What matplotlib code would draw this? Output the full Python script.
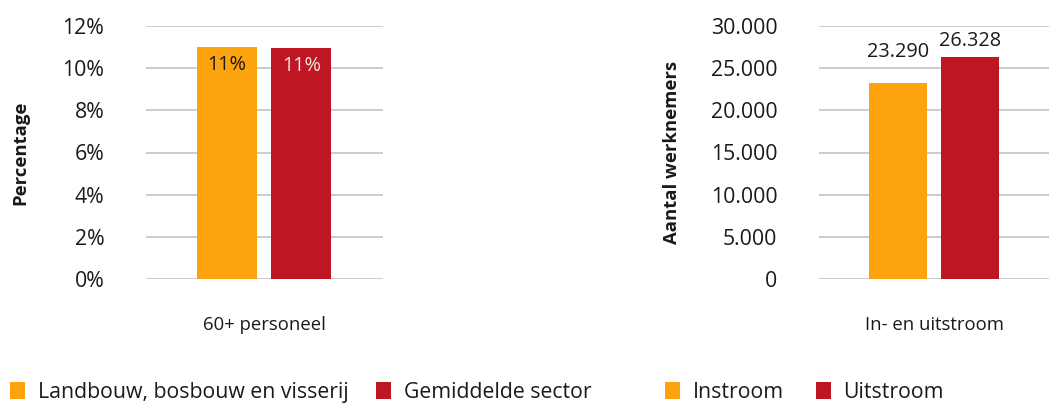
import matplotlib
matplotlib.use("Agg")
import matplotlib.pyplot as plt
from matplotlib.patches import Patch
from matplotlib.transforms import offset_copy

plt.rcParams['font.family'] = ['Open Sans', 'DejaVu Sans']

# Data
left_category = "60+ personeel"
left_series = ["Landbouw, bosbouw en visserij", "Gemiddelde sector"]
left_values = [11.0, 10.95]
left_labels = ["11%", "11%"]
left_ticks = [0, 2, 4, 6, 8, 10, 12]
left_ticklabels = ["0%", "2%", "4%", "6%", "8%", "10%", "12%"]

right_category = "In- en uitstroom"
right_series = ["Instroom", "Uitstroom"]
right_values = [23290, 26328]
right_labels = ["23.290", "26.328"]
right_ticks = [0, 5000, 10000, 15000, 20000, 25000, 30000]
right_ticklabels = ["0", "5.000", "10.000", "15.000", "20.000", "25.000", "30.000"]

ORANGE = "#FDA30F"
RED = "#BE1622"
colors = [ORANGE, RED]
GRID = "#BFBFBF"
TXT = "#1a1a1a"

W, H = 1050, 403
fig = plt.figure(figsize=(W / 100, H / 100), dpi=100)

def axes_px(x0, x1, y0, y1):
    return fig.add_axes([x0 / W, 1 - y1 / H, (x1 - x0) / W, (y1 - y0) / H])

ax1 = axes_px(146, 383, 26, 279)
ax2 = axes_px(819, 1049, 26, 279)

offsets = [-0.158, 0.156]
bw = 0.253

def style(ax, ticks, ticklabels, category, ylabel, lblx):
    ax.set_xlim(-0.5, 0.5)
    ax.set_ylim(ticks[0], ticks[-1])
    ax.set_yticks(ticks)
    ax.set_yticklabels(ticklabels, fontsize=15.3, color=TXT)
    ax.tick_params(axis='y', length=0, pad=30)
    ax.set_xticks([0])
    ax.set_xticklabels([category], fontsize=13.3, color=TXT)
    ax.tick_params(axis='x', length=0, pad=27)
    for s in ax.spines.values():
        s.set_visible(False)
    ax.yaxis.grid(True, color=GRID, linewidth=1.1)
    ax.set_axisbelow(True)
    ax.set_ylabel(ylabel, fontsize=13.3, fontweight='bold', color=TXT)
    ax.yaxis.set_label_coords(lblx, 0.5)

style(ax1, left_ticks, left_ticklabels, left_category, "Percentage", -0.49)
style(ax2, right_ticks, right_ticklabels, right_category, "Aantal werknemers", -0.60)

# Left bars with labels inside
for i, (v, lab) in enumerate(zip(left_values, left_labels)):
    ax1.bar(offsets[i], v, width=bw, color=colors[i], zorder=2)
    tr = offset_copy(ax1.transData, fig=fig, x=0, y=-18, units='dots')
    ax1.text(offsets[i], v, lab, ha='center', va='center', fontsize=14.3,
             color=(TXT if i == 0 else "#f7e4e4"), zorder=3, transform=tr)

# Right bars with labels above
label_lift = [31, 16]
for i, (v, lab) in enumerate(zip(right_values, right_labels)):
    ax2.bar(offsets[i], v, width=bw, color=colors[i], zorder=2)
    tr = offset_copy(ax2.transData, fig=fig, x=0, y=label_lift[i], units='dots')
    ax2.text(offsets[i], v, lab, ha='center', va='center', fontsize=14.3,
             color=TXT, zorder=3, transform=tr)

def legend(series, x, colsp):
    handles = [Patch(facecolor=c, edgecolor='none') for c in colors]
    fig.legend(handles, series, loc='lower left', bbox_to_anchor=(x / W, 0.0),
               ncol=2, frameon=False, fontsize=15.3, handlelength=0.7,
               handleheight=0.8, handletextpad=0.6, columnspacing=colsp,
               borderpad=0, borderaxespad=0, labelcolor=TXT)

legend(left_series, 10, 1.3)
legend(right_series, 665, 1.5)

fig.savefig("out.png", dpi=100)
